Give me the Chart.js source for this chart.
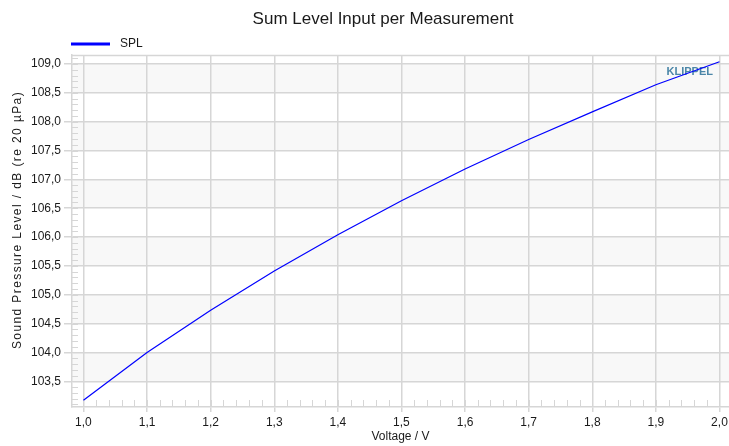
<!DOCTYPE html>
<html>
<head>
<meta charset="utf-8">
<script src="https://cdn.jsdelivr.net/npm/chart.js@4/dist/chart.umd.min.js"></script>
<style>
  html, body { margin: 0; padding: 0; background: #fff; }
  #wrap { width: 729px; height: 446px; }
</style>
</head>
<body>
<div id="wrap"><canvas id="lineChart" width="729" height="446"></canvas></div>
<script>
// data
var voltage = [1.0, 1.1, 1.2, 1.3, 1.4, 1.5, 1.6, 1.7, 1.8, 1.9, 2.0];
var spl = [103.17, 104.00, 104.73, 105.41, 106.04, 106.63, 107.18, 107.69, 108.17, 108.64, 109.04];
var xTicks = [1.0, 1.1, 1.2, 1.3, 1.4, 1.5, 1.6, 1.7, 1.8, 1.9, 2.0];
var yTicks = [103.5, 104.0, 104.5, 105.0, 105.5, 106.0, 106.5, 107.0, 107.5, 108.0, 108.5, 109.0];

var FONT = "'Liberation Sans', Arial, sans-serif";
var GRID = '#d6d6d6';

function comma(v) { return Number(v).toFixed(1).replace('.', ','); }

// title, legend, bands, frame, minor ticks, logo
var decor = {
  id: 'decor',
  beforeDraw: function (chart) {
    var c = chart.ctx, a = chart.chartArea, y = chart.scales.y;
    c.save();
    c.fillStyle = '#f8f8f8';
    for (var i = 0; i + 1 < yTicks.length; i += 2) {
      var t = y.getPixelForValue(yTicks[i + 1]), b = y.getPixelForValue(yTicks[i]);
      c.fillRect(a.left, t, a.right - a.left, b - t);
    }
    // title
    c.fillStyle = '#1a1a1a';
    c.font = '17px ' + FONT;
    c.textAlign = 'center';
    c.textBaseline = 'middle';
    c.fillText('Sum Level Input per Measurement', 383, 19);
    // legend
    var ds = chart.data.datasets[0];
    c.fillStyle = ds.borderColor;
    c.fillRect(71, 42.5, 39, 3);
    c.fillStyle = '#1a1a1a';
    c.font = '12px ' + FONT;
    c.textAlign = 'left';
    c.fillText(ds.label, 120, 44);
    // y axis title (spaced out like the original)
    c.translate(18, 220);
    c.rotate(-Math.PI / 2);
    c.textAlign = 'center';
    c.letterSpacing = '1.4px';
    c.fillText('Sound Pressure Level / dB (re 20 µPa)', 0, 0);
    c.restore();
  },
  beforeDatasetsDraw: function (chart) {
    var c = chart.ctx, a = chart.chartArea, x = chart.scales.x, y = chart.scales.y;
    c.save();
    c.strokeStyle = GRID;
    c.lineWidth = 1.5;
    c.beginPath();
    c.moveTo(a.left, a.top + 0.5);
    c.lineTo(a.right, a.top + 0.5);
    c.stroke();
    c.lineWidth = 1;
    c.beginPath();
    for (var v = 103.1; v < 109.2; v += 0.1) {
      var py = Math.round(y.getPixelForValue(v)) + 0.5;
      if (py < a.top || py > a.bottom) continue;
      c.moveTo(a.left, py); c.lineTo(a.left + 6, py);
    }
    for (var u = 1.0; u < 2.01; u += 0.02) {
      var px = Math.round(x.getPixelForValue(u)) + 0.5;
      c.moveTo(px, a.bottom); c.lineTo(px, a.bottom - 7);
    }
    c.stroke();
    c.fillStyle = '#4b86a8';
    c.font = 'bold 11px ' + FONT;
    c.textAlign = 'right';
    c.textBaseline = 'middle';
    c.fillText('KLIPPEL', 713, 72);
    c.restore();
  }
};

var ctxL = document.getElementById('lineChart').getContext('2d');
var myLineChart = new Chart(ctxL, {
  type: 'line',
  data: {
    datasets: [{
      label: 'SPL',
      data: voltage.map(function (v, i) { return { x: v, y: spl[i] }; }),
      borderColor: '#0000ff',
      backgroundColor: '#0000ff',
      borderWidth: 1.2,
      pointRadius: 0,
      tension: 0,
      fill: false
    }]
  },
  options: {
    responsive: false,
    animation: false,
    layout: { padding: { top: 55, right: 0, left: 0, bottom: 0 } },
    plugins: { legend: { display: false }, title: { display: false }, tooltip: { enabled: false } },
    scales: {
      x: {
        type: 'linear',
        min: 0.982,
        max: 2.015,
        afterBuildTicks: function (s) { s.ticks = xTicks.map(function (v) { return { value: v }; }); },
        afterFit: function (s) { s.height = 39; s.paddingLeft = 0; s.paddingRight = 0; },
        grid: { color: GRID, lineWidth: 1.5, tickLength: 5 },
        border: { color: GRID, width: 1.5 },
        ticks: {
          autoSkip: false, maxRotation: 0, padding: 3, color: '#1a1a1a',
          font: { family: FONT, size: 12 },
          callback: function (v) { return comma(v); }
        },
        title: { display: true, text: 'Voltage / V', color: '#1a1a1a', font: { family: FONT, size: 12 }, padding: { top: 0, bottom: 2 } }
      },
      y: {
        min: 103.054,
        max: 109.156,
        afterBuildTicks: function (s) { s.ticks = yTicks.map(function (v) { return { value: v }; }); },
        afterFit: function (s) { s.width = 72; },
        grid: { color: GRID, lineWidth: 1.5, tickLength: 8 },
        border: { color: GRID, width: 1.5 },
        ticks: {
          padding: 3, color: '#1a1a1a',
          font: { family: FONT, size: 12 },
          callback: function (v) { return comma(v); }
        },
        title: { display: false }
      }
    }
  },
  plugins: [decor]
});
</script>
</body>
</html>
